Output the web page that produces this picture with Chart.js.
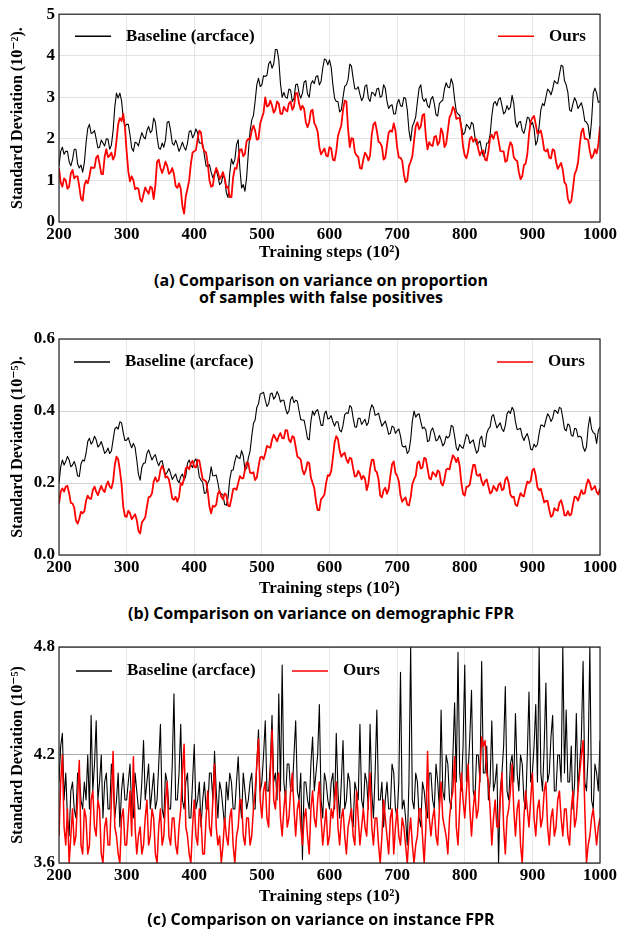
<!DOCTYPE html>
<html>
<head>
<meta charset="utf-8">
<script src="https://cdn.jsdelivr.net/npm/chart.js@4.4.1/dist/chart.umd.min.js"></script>
<style>
  html, body { margin: 0; padding: 0; background: #fff; }
  body { width: 619px; height: 934px; position: relative; overflow: hidden; }
  canvas { position: absolute; left: 0; }
  .cap { position: absolute; left: 0; width: 642px; text-align: center;
         font-family: 'Open Sans', sans-serif; font-weight: 700; font-size: 16px;
         line-height: 17px; color: #000; }
</style>
</head>
<body>
<canvas id="chartA" width="619" height="266" style="top:0"></canvas>
<div class="cap" style="top:272px">(a) Comparison on variance on proportion<br>of samples with false positives</div>
<canvas id="chartB" width="619" height="280" style="top:320px"></canvas>
<div class="cap" style="top:605px">(b) Comparison on variance on demographic FPR</div>
<canvas id="chartC" width="619" height="280" style="top:630px"></canvas>
<div class="cap" style="top:911px">(c) Comparison on variance on instance FPR</div>

<script>
// training steps (x 10^2), read every 2.5
const steps = [];
for (let s = 200; s <= 1000; s += 2.5) steps.push(s);

const seriesNames = ['Baseline (arcface)', 'Ours'];

// (a) proportion of samples with false positives, 10^-2 (one row = 50 steps)
const baselineA = [
  1.35,1.7, 1.8,1.63, 1.7,1.7, 1.45,1.35, 1.5,1.75, 1.75,1.4, 1.3,1.37, 1.2,1.43, 1.9,2.25, 2.35,2.13,
  2.15,2.2, 2.0,1.78, 1.8,1.97, 1.9,1.83, 2.0,1.99, 1.75,1.85, 2.2,2.77, 3.1,2.98, 3.1,2.92, 2.5,2.3,
  2.35,2.35, 2.1,1.78, 1.7,1.92, 1.9,1.83, 2.0,2.15, 2.05,2.0, 2.2,2.3, 2.15,2.2, 2.5,2.4, 2.05,1.78,
  1.75,1.9, 1.8,1.98, 2.4,2.42, 2.2,1.9, 1.85,1.97, 1.85,1.7, 1.8,1.92, 1.8,1.73, 1.9,2.17, 2.2,2.03,
  2.1,2.24, 2.14,1.9, 1.9,1.87, 1.6,1.35, 1.33,1.38, 1.2,1.06, 1.17,1.25, 1.1,0.9, 0.94,1.12, 1.05,0.7,
  0.59,1.18, 1.52,1.39, 1.5,1.86, 1.98,1.28, 0.82,0.9, 0.74,1.08, 1.67,2.18, 2.45,2.56, 2.9,3.3, 3.46,3.26,
  3.3,3.52, 3.5,3.53, 3.8,3.87, 3.7,3.8, 4.15,4.15, 3.9,3.33, 3.0,3.12, 3.0,2.98, 3.2,3.17, 2.9,2.98,
  3.3,3.32, 3.1,2.98, 3.1,3.37, 3.4,3.08, 3.0,3.32, 3.4,3.33, 3.5,3.52, 3.3,3.38, 3.7,3.92, 3.9,3.78,
  3.9,3.72, 3.3,2.98, 2.9,2.9, 2.65,2.7, 3.0,3.27, 3.3,3.43, 3.8,3.75, 3.45,3.2, 3.2,3.25, 3.07,2.92,
  3.0,3.27, 3.3,2.98, 2.9,3.12, 3.1,3.03, 3.2,3.22, 3.0,3.03, 3.3,3.22, 2.9,2.73, 2.8,2.82, 2.6,2.6,
  2.85,2.95, 2.8,2.78, 3.0,2.97, 2.7,2.2, 1.95,2.3, 2.4,2.53, 2.9,3.22, 3.3,2.98, 2.9,2.97, 2.8,2.75,
  2.95,3.02, 2.85,2.58, 2.55,2.85, 2.9,2.93, 3.2,3.35, 3.25,3.23, 3.45,3.32, 2.95,2.66, 2.6,2.57, 2.3,2.1,
  2.15,2.35, 2.3,2.23, 2.4,2.35, 2.05,1.86, 1.9,1.95, 1.75,1.58, 1.65,1.9, 1.9,2.1, 2.55,2.85, 2.9,2.8,
  2.95,2.99, 2.8,2.6, 2.65,2.8, 2.7,2.76, 3.05,2.85, 2.4,2.28, 2.4,2.42, 2.2,2.13, 2.3,2.52, 2.5,2.33,
  2.4,2.25, 1.85,1.96, 2.3,2.7, 2.85,2.8, 3.0,3.2, 3.15,3.06, 3.2,3.4, 3.35,3.33, 3.55,3.77, 3.75,3.4,
  3.3,3.12, 2.7,2.66, 2.85,2.99, 2.9,2.73, 2.8,2.87, 2.7,2.43, 2.4,2.32, 2.0,2.43, 3.1,3.22, 3.1,2.88,
  2.9
];
const oursA = [
  1.3,0.95, 0.85,1.05, 1.0,0.8, 0.85,1.17, 1.25,1.05, 1.1,1.1, 0.85,0.56, 0.51,0.87, 1.0,0.93, 1.1,1.32,
  1.3,1.3, 1.55,1.6, 1.4,1.16, 1.15,1.57, 1.75,1.56, 1.6,1.67, 1.5,1.6, 1.95,2.35, 2.5,2.43, 2.6,2.27,
  1.7,1.22, 0.98,1.1, 1.0,0.79, 0.82,0.8, 0.55,0.49, 0.67,0.83, 0.75,0.68, 0.85,0.82, 0.55,0.88, 1.45,1.5,
  1.3,1.18, 1.3,1.45, 1.35,1.16, 1.2,1.3, 1.15,0.87, 0.82,0.93, 0.8,0.38, 0.2,0.62, 0.8,1.0, 1.4,1.67,
  1.7,1.73, 2.0,2.2, 2.15,1.81, 1.7,1.67, 1.4,1.0, 0.85,0.88, 1.15,1.3, 1.2,1.03, 1.1,1.2, 1.05,0.83,
  0.85,0.6, 0.6,1.07, 1.3,1.28, 1.5,1.74, 1.75,1.58, 1.65,1.95, 2.0,1.98, 2.2,2.32, 2.2,1.98, 2.0,2.37,
  2.5,2.63, 3.0,2.78, 2.8,2.92, 2.8,2.63, 2.7,2.9, 2.85,2.6, 2.6,2.77, 2.7,2.66, 2.85,2.9, 2.7,2.78,
  3.1,3.1, 2.85,2.7, 2.8,2.72, 2.4,2.28, 2.4,2.67, 2.7,2.38, 2.3,2.17, 1.8,1.63, 1.7,1.77, 1.6,1.58,
  1.8,1.77, 1.5,1.48, 1.7,2.07, 2.2,2.33, 2.7,2.92, 2.9,2.23, 1.8,2.02, 2.0,1.68, 1.6,1.57, 1.3,1.28,
  1.5,1.67, 1.6,1.48, 1.6,2.1, 2.35,2.4, 2.2,1.93, 1.9,1.82, 1.5,1.55, 1.85,2.15, 2.2,2.17, 2.37,2.2,
  1.8,1.55, 1.55,1.47, 1.15,0.96, 1.0,1.35, 1.45,1.58, 1.95,2.3, 2.4,2.23, 2.3,2.57, 2.6,2.05, 1.75,1.92,
  1.85,1.83, 2.05,2.07, 1.85,1.93, 2.25,2.14, 1.8,1.88, 2.2,2.52, 2.6,2.77, 2.7,2.48, 2.5,2.5, 2.25,1.81,
  1.6,1.53, 1.7,2.0, 2.05,1.93, 2.0,1.99, 1.75,1.6, 1.7,1.72, 1.5,1.48, 1.7,2.02, 2.1,2.0, 2.15,2.17,
  1.95,1.71, 1.7,1.7, 1.45,1.48, 1.75,1.92, 1.85,1.56, 1.5,1.47, 1.2,1.03, 1.1,1.37, 1.4,1.63, 2.1,2.42,
  2.5,2.55, 2.35,2.13, 2.15,2.2, 2.0,1.73, 1.7,1.75, 1.55,1.53, 1.75,1.72, 1.45,1.28, 1.35,1.42, 1.25,0.95,
  0.9,0.56, 0.45,0.5, 0.8,1.15, 1.25,1.43, 1.85,2.17, 2.25,2.0, 2.0,1.97, 1.7,1.53, 1.6,1.75, 1.65,1.85,
  2.3
];

// (b) demographic FPR, 10^-5 (one row = 50 steps)
const baselineB = [
  0.2,0.244, 0.264,0.25, 0.26,0.274, 0.264,0.245, 0.25,0.26, 0.245,0.22, 0.218,0.253, 0.264,0.261, 0.282,0.315, 0.324,0.308,
  0.315,0.33, 0.32,0.3, 0.305,0.315, 0.3,0.282, 0.287,0.297, 0.282,0.289, 0.32,0.35, 0.355,0.35, 0.37,0.367, 0.34,0.318,
  0.319,0.326, 0.31,0.298, 0.31,0.299, 0.264,0.224, 0.208,0.244, 0.255,0.256, 0.282,0.292, 0.278,0.264, 0.273,0.279, 0.26,0.248,
  0.26,0.262, 0.24,0.223, 0.23,0.24, 0.227,0.21, 0.218,0.225, 0.208,0.201, 0.218,0.225, 0.208,0.22, 0.255,0.264, 0.25,0.243,
  0.26,0.267, 0.25,0.217, 0.208,0.202, 0.171,0.173, 0.2,0.21, 0.245,0.22, 0.22,0.222, 0.2,0.173, 0.17,0.167, 0.14,0.138,
  0.16,0.21, 0.235,0.236, 0.26,0.277, 0.27,0.268, 0.29,0.275, 0.236,0.241, 0.27,0.288, 0.33,0.365, 0.375,0.41, 0.42,0.447,
  0.449,0.452, 0.43,0.413, 0.42,0.447, 0.45,0.433, 0.44,0.454, 0.444,0.425, 0.43,0.43, 0.407,0.392, 0.4,0.432, 0.44,0.423,
  0.43,0.427, 0.4,0.376, 0.375,0.374, 0.35,0.323, 0.32,0.372, 0.4,0.388, 0.4,0.404, 0.384,0.36, 0.36,0.392, 0.4,0.378,
  0.38,0.387, 0.37,0.358, 0.37,0.37, 0.347,0.342, 0.36,0.39, 0.395,0.393, 0.415,0.41, 0.38,0.356, 0.355,0.38, 0.38,0.363,
  0.37,0.377, 0.36,0.368, 0.4,0.417, 0.41,0.388, 0.39,0.394, 0.375,0.358, 0.365,0.372, 0.355,0.335, 0.338,0.358, 0.355,0.338,
  0.345,0.35, 0.33,0.303, 0.3,0.303, 0.282,0.289, 0.32,0.372, 0.4,0.383, 0.39,0.392, 0.37,0.351, 0.355,0.347, 0.315,0.318,
  0.345,0.353, 0.338,0.317, 0.32,0.332, 0.32,0.303, 0.31,0.33, 0.325,0.331, 0.36,0.357, 0.33,0.298, 0.29,0.307, 0.3,0.296,
  0.315,0.335, 0.33,0.31, 0.315,0.32, 0.3,0.283, 0.29,0.322, 0.33,0.303, 0.3,0.337, 0.35,0.356, 0.385,0.39, 0.37,0.353,
  0.36,0.367, 0.35,0.343, 0.36,0.392, 0.4,0.393, 0.41,0.402, 0.37,0.348, 0.35,0.352, 0.33,0.318, 0.33,0.337, 0.32,0.294,
  0.292,0.308, 0.3,0.307, 0.338,0.361, 0.36,0.356, 0.375,0.392, 0.385,0.371, 0.38,0.402, 0.4,0.393, 0.41,0.407, 0.38,0.35,
  0.345,0.364, 0.36,0.333, 0.33,0.352, 0.35,0.328, 0.33,0.327, 0.3,0.288, 0.3,0.354, 0.384,0.35, 0.34,0.337, 0.31,0.345,
  0.356
];
const oursB = [
  0.143,0.176, 0.185,0.176, 0.19,0.192, 0.171,0.145, 0.143,0.132, 0.097,0.087, 0.1,0.12, 0.116,0.121, 0.15,0.165, 0.157,0.156,
  0.18,0.19, 0.176,0.166, 0.18,0.192, 0.18,0.175, 0.194,0.204, 0.19,0.185, 0.204,0.25, 0.273,0.266, 0.236,0.197, 0.134,0.108,
  0.106,0.123, 0.116,0.099, 0.106,0.113, 0.097,0.067, 0.06,0.09, 0.097,0.104, 0.134,0.16, 0.162,0.171, 0.204,0.216, 0.204,0.208,
  0.236,0.248, 0.236,0.215, 0.218,0.21, 0.185,0.157, 0.153,0.162, 0.148,0.162, 0.2,0.195, 0.213,0.241, 0.245,0.238, 0.255,0.262,
  0.245,0.243, 0.264,0.262, 0.236,0.21, 0.208,0.204, 0.176,0.134, 0.116,0.137, 0.134,0.14, 0.171,0.178, 0.162,0.155, 0.171,0.166,
  0.137,0.135, 0.157,0.183, 0.185,0.181, 0.2,0.219, 0.213,0.213, 0.236,0.257, 0.255,0.229, 0.227,0.23, 0.208,0.215, 0.245,0.271,
  0.273,0.266, 0.282,0.303, 0.3,0.298, 0.32,0.334, 0.325,0.316, 0.33,0.339, 0.325,0.324, 0.347,0.346, 0.32,0.313, 0.33,0.327,
  0.3,0.273, 0.27,0.265, 0.236,0.224, 0.236,0.258, 0.255,0.215, 0.2,0.186, 0.148,0.125, 0.125,0.155, 0.16,0.168, 0.2,0.222,
  0.22,0.233, 0.27,0.312, 0.33,0.322, 0.29,0.273, 0.28,0.284, 0.265,0.256, 0.27,0.267, 0.24,0.218, 0.22,0.234, 0.225,0.21,
  0.22,0.212, 0.18,0.198, 0.24,0.264, 0.265,0.235, 0.23,0.21, 0.165,0.16, 0.18,0.187, 0.17,0.183, 0.22,0.252, 0.26,0.228,
  0.22,0.205, 0.165,0.148, 0.155,0.16, 0.14,0.138, 0.16,0.197, 0.21,0.22, 0.255,0.26, 0.24,0.243, 0.27,0.267, 0.24,0.213,
  0.21,0.23, 0.225,0.218, 0.235,0.23, 0.2,0.193, 0.21,0.237, 0.24,0.238, 0.26,0.277, 0.27,0.258, 0.27,0.247, 0.2,0.17,
  0.165,0.19, 0.19,0.196, 0.225,0.25, 0.25,0.223, 0.22,0.225, 0.205,0.193, 0.205,0.21, 0.19,0.171, 0.175,0.192, 0.185,0.178,
  0.195,0.2, 0.18,0.183, 0.21,0.217, 0.2,0.168, 0.16,0.162, 0.14,0.136, 0.155,0.172, 0.165,0.163, 0.185,0.204, 0.2,0.206,
  0.235,0.24, 0.22,0.188, 0.18,0.184, 0.165,0.146, 0.15,0.15, 0.125,0.106, 0.11,0.13, 0.125,0.123, 0.145,0.152, 0.135,0.11,
  0.11,0.122, 0.11,0.113, 0.14,0.162, 0.16,0.151, 0.165,0.18, 0.17,0.171, 0.195,0.21, 0.2,0.181, 0.185,0.192, 0.175,0.168,
  0.185
];

// (c) instance FPR, 10^-5 (one row = 25 steps)
const baselineC = [
  4.05, 4.25, 4.32, 3.95, 4.1, 3.85, 3.75, 4.0, 4.05, 3.9,
  3.85, 4.1, 4.1, 3.95, 3.9, 4.05, 3.95, 4.2, 3.9, 4.42,
  4.0, 4.15, 4.39, 3.95, 4.05, 4.2, 3.85, 4.05, 4.1, 3.9,
  3.9, 4.15, 4.05, 3.85, 3.95, 4.1, 3.8, 4.0, 4.1, 3.95,
  3.95, 4.05, 4.15, 3.9, 3.85, 4.1, 4.0, 3.9, 3.9, 4.05,
  4.28, 3.95, 4.05, 4.15, 3.9, 4.0, 4.1, 3.9, 3.95, 4.15,
  4.37, 3.9, 3.85, 4.1, 4.05, 3.9, 3.9, 4.15, 4.54, 3.95,
  3.95, 4.1, 4.37, 3.95, 3.9, 4.05, 4.1, 3.85, 3.85, 4.05,
  4.26, 3.9, 3.95, 4.05, 3.8, 3.95, 4.05, 3.9, 3.9, 4.1,
  4.1, 3.95, 4.22, 4.0, 3.85, 4.05, 4.0, 3.9, 3.8, 4.05,
  3.95, 4.1, 4.05, 3.9, 3.9, 4.05, 4.19, 3.95, 3.85, 4.1,
  4.0, 3.9, 3.95, 4.05, 4.1, 3.9, 3.9, 4.15, 4.34, 4.0,
  4.05, 4.2, 4.39, 4.0, 4.0, 4.15, 4.42, 4.05, 4.1, 3.95,
  4.54, 4.0, 4.7, 4.05, 3.95, 4.15, 4.15, 4.0, 4.0, 4.2,
  4.39, 4.0, 3.95, 4.1, 3.62, 4.05, 4.05, 3.95, 3.9, 4.15,
  4.3, 4.0, 4.1, 4.2, 4.48, 3.95, 3.85, 4.1, 4.05, 3.95,
  3.9, 4.05, 4.1, 3.9, 4.32, 4.0, 3.85, 4.05, 4.28, 3.9,
  3.95, 4.1, 4.05, 3.85, 3.8, 4.05, 4.0, 3.95, 4.37, 3.95,
  3.9, 4.1, 4.05, 3.9, 4.37, 4.0, 3.85, 4.1, 4.45, 3.95,
  3.95, 4.05, 3.8, 3.95, 4.05, 3.9, 3.9, 4.15, 4.1, 3.9,
  3.85, 4.05, 4.66, 3.9, 3.95, 3.85, 3.7, 4.05, 4.8, 3.95,
  3.9, 4.1, 4.05, 3.85, 3.8, 4.05, 4.0, 3.9, 3.85, 4.1,
  4.1, 3.95, 3.9, 4.15, 4.05, 3.9, 4.45, 4.0, 3.95, 4.2,
  4.15, 3.95, 3.9, 4.2, 4.49, 4.05, 4.77, 4.1, 4.0, 4.25,
  4.7, 4.05, 4.1, 4.3, 4.56, 4.0, 3.95, 4.2, 4.2, 4.05,
  4.72, 4.1, 4.1, 4.25, 3.95, 4.05, 4.39, 4.0, 4.05, 4.15,
  3.6, 4.0, 4.1, 4.25, 4.58, 4.0, 3.95, 4.15, 4.2, 4.05,
  4.43, 4.1, 4.0, 4.2, 4.15, 3.95, 3.9, 4.2, 4.55, 4.05,
  4.1, 4.25, 4.48, 4.05, 4.8, 4.1, 4.0, 4.25, 4.6, 4.05,
  4.1, 4.3, 4.42, 4.0, 4.0, 4.2, 4.2, 4.05, 4.8, 4.1,
  4.45, 4.05, 4.05, 4.25, 3.9, 4.05, 4.43, 4.0, 4.15, 4.3,
  4.72, 4.05, 4.0, 4.2, 4.8, 3.95, 3.9, 4.15, 4.1, 4.0,
  4.28
];
const oursC = [
  3.75, 4.05, 4.2, 3.8, 3.7, 3.9, 3.6, 3.75, 3.9, 3.7,
  3.75, 3.95, 4.17, 3.7, 3.65, 3.9, 3.85, 3.65, 3.7, 3.95,
  4.0, 3.8, 3.75, 3.95, 3.9, 3.65, 3.6, 3.8, 3.85, 3.7,
  3.7, 3.95, 4.22, 3.8, 3.75, 3.65, 3.6, 3.85, 3.9, 3.7,
  3.7, 3.85, 4.0, 3.75, 4.19, 3.8, 3.65, 3.75, 3.8, 3.65,
  3.7, 3.85, 3.95, 3.7, 3.75, 3.9, 3.85, 3.65, 3.6, 3.8,
  3.9, 3.7, 3.75, 3.95, 4.05, 3.75, 3.7, 3.85, 3.85, 3.7,
  3.65, 3.8, 3.9, 4.1, 4.26, 3.8, 3.75, 3.65, 3.6, 3.8,
  3.95, 3.75, 3.7, 3.9, 3.85, 3.65, 3.65, 3.85, 4.0, 3.8,
  3.75, 3.95, 4.15, 3.8, 3.7, 3.75, 3.6, 3.7, 3.85, 3.75,
  3.7, 3.85, 3.9, 3.7, 3.6, 3.75, 3.8, 3.95, 3.95, 3.75,
  3.7, 3.85, 3.85, 3.7, 3.75, 3.9, 4.0, 4.15, 4.29, 3.95,
  3.85, 4.0, 4.05, 3.85, 3.8, 4.1, 4.34, 3.95, 3.9, 4.05,
  4.1, 3.85, 3.75, 3.9, 4.0, 3.8, 3.85, 4.0, 4.1, 3.9,
  3.75, 3.9, 3.95, 3.8, 3.7, 3.85, 3.9, 3.75, 3.65, 3.9,
  4.0, 3.85, 3.8, 3.95, 4.05, 3.85, 3.7, 3.8, 3.9, 3.7,
  3.75, 3.9, 3.85, 3.95, 4.05, 3.8, 3.7, 3.85, 3.9, 3.75,
  3.65, 3.8, 3.85, 3.9, 3.75, 3.7, 4.0, 3.85, 3.7, 3.8,
  3.9, 3.8, 3.75, 3.95, 4.1, 3.8, 3.7, 3.85, 3.85, 3.7,
  3.6, 3.75, 3.95, 3.85, 3.75, 3.65, 3.85, 3.9, 3.65, 3.8,
  3.9, 3.75, 3.7, 3.85, 3.8, 3.7, 3.6, 3.75, 3.85, 3.7,
  3.6, 3.7, 3.75, 3.9, 3.9, 3.75, 3.6, 3.8, 4.22, 3.85,
  3.75, 3.85, 3.9, 3.75, 3.7, 3.9, 4.05, 3.85, 3.8, 3.75,
  3.65, 3.85, 3.95, 4.0, 4.19, 3.8, 3.7, 3.9, 4.1, 3.95,
  3.85, 4.0, 4.15, 3.9, 3.75, 3.9, 4.0, 3.85, 3.9, 4.1,
  4.3, 4.25, 4.28, 4.1, 4.05, 3.9, 3.7, 3.85, 3.95, 3.8,
  3.8, 3.95, 4.1, 3.8, 3.65, 3.85, 3.9, 4.0, 4.15, 3.9,
  3.75, 3.9, 3.95, 3.7, 3.6, 3.85, 4.0, 3.9, 3.8, 3.95,
  4.1, 3.85, 3.75, 3.9, 3.95, 3.8, 3.85, 4.0, 4.05, 3.8,
  3.7, 3.85, 3.9, 3.75, 3.8, 3.95, 4.0, 3.85, 3.75, 3.9,
  3.9, 3.75, 3.7, 3.9, 4.0, 3.8, 3.85, 4.0, 4.1, 4.2,
  4.28, 3.9, 3.6, 3.7, 3.75, 3.85, 3.9, 3.8, 3.7, 3.8,
  3.85
];

Chart.defaults.font.family = "'Liberation Serif', 'DejaVu Serif', serif";
Chart.defaults.font.weight = 'bold';
Chart.defaults.color = '#000';

// legend lines + labels drawn inside the plot, and a frame round the plot
const plotDecor = {
  id: 'plotDecor',
  afterDatasetsDraw(chart, args, opts) {
    const {ctx, chartArea: a} = chart;
    ctx.save();
    ctx.strokeStyle = '#222';
    ctx.lineWidth = 1.2;
    ctx.strokeRect(a.left, a.top, a.right - a.left, a.bottom - a.top);
    ctx.font = "bold 17px 'Liberation Serif', serif";
    ctx.textBaseline = 'middle';
    ctx.fillStyle = '#000';
    chart.data.datasets.forEach((ds, i) => {
      const x = a.left + opts.slots[i];
      const y = a.top + opts.y;
      ctx.strokeStyle = ds.borderColor;
      ctx.lineWidth = 1.6;
      ctx.beginPath();
      ctx.moveTo(x, y);
      ctx.lineTo(x + 36, y);
      ctx.stroke();
      ctx.fillText(ds.label, x + 51, y);
    });
    ctx.restore();
  }
};

function toPoints(vals) {
  return vals.map((v, i) => ({x: steps[i], y: v}));
}

function makeChart(id, cfg) {
  return new Chart(document.getElementById(id), {
    type: 'line',
    data: {
      datasets: [
        { label: seriesNames[0], data: toPoints(cfg.base), borderColor: '#000000', borderWidth: cfg.widths[0], order: 2 },
        { label: seriesNames[1], data: toPoints(cfg.ours), borderColor: '#ff0000', borderWidth: cfg.widths[1], order: 1 }
      ]
    },
    options: {
      responsive: false,
      animation: false,
      devicePixelRatio: 1,
      layout: { padding: { top: cfg.padTop, right: 18, left: 0, bottom: 0 } },
      elements: {
        point: { radius: 0 },
        line: { tension: 0, borderJoinStyle: 'round' }
      },
      plugins: {
        legend: { display: false },
        tooltip: { enabled: false },
        plotDecor: { slots: cfg.legendSlots, y: cfg.legendY }
      },
      scales: {
        x: {
          type: 'linear',
          min: 200,
          max: 1000,
          ticks: {
            stepSize: 100, padding: 2, maxRotation: 0,
            font: { size: 17, weight: 'bold' },
            callback: (v) => String(v)
          },
          grid: { color: '#e6e6e6', drawTicks: false },
          border: { display: false },
          title: {
            display: true,
            text: 'Training steps (10²)',
            font: { size: 17, weight: 'bold' },
            padding: { top: 0, bottom: cfg.titlePad }
          },
          afterFit: (s) => { s.height = cfg.xHeight; }
        },
        y: {
          min: cfg.yMin,
          max: cfg.yMax,
          ticks: {
            stepSize: cfg.yStep,
            padding: 4,
            font: { size: 17, weight: 'bold' },
            callback: cfg.yFormat
          },
          grid: { color: cfg.yGrid, drawTicks: false },
          border: { display: false },
          title: {
            display: true,
            text: cfg.yTitle,
            font: { size: 16, weight: 'bold' },
            padding: { top: 8, bottom: 0 }
          },
          afterFit: (s) => { s.width = 59; }
        }
      }
    },
    plugins: [plotDecor]
  });
}

makeChart('chartA', {
  base: baselineA, ours: oursA, widths: [1.1, 1.8],
  padTop: 7, xHeight: 44, titlePad: 3,
  yMin: 0, yMax: 5, yStep: 1, yFormat: (v) => v.toFixed(0),
  yGrid: '#e2e2e2',
  yTitle: 'Standard Deviation (10⁻²).',
  legendSlots: [16, 439], legendY: 22
});

makeChart('chartB', {
  base: baselineB, ours: oursB, widths: [1.1, 1.8],
  padTop: 19, xHeight: 45, titlePad: 1,
  yMin: 0, yMax: 0.6, yStep: 0.2, yFormat: (v) => v.toFixed(1),
  yGrid: '#d4d4d4',
  yTitle: 'Standard Deviation (10⁻⁵).',
  legendSlots: [15, 438], legendY: 23
});

makeChart('chartC', {
  base: baselineC, ours: oursC, widths: [1.1, 1.5],
  padTop: 17, xHeight: 47, titlePad: 3,
  yMin: 3.6, yMax: 4.8, yStep: 0.6, yFormat: (v) => v.toFixed(1),
  yGrid: '#a8a8a8',
  yTitle: 'Standard Deviation (10⁻⁵)',
  legendSlots: [17, 233], legendY: 24
});
</script>
</body>
</html>
